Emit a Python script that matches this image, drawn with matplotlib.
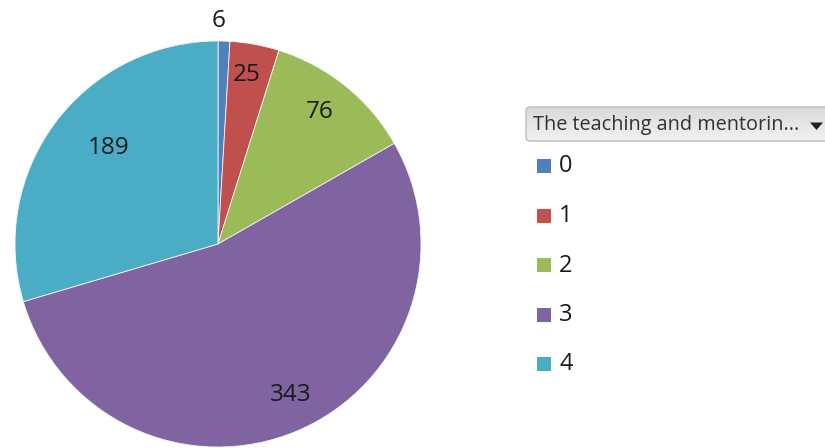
import matplotlib.pyplot as plt
import numpy as np
from matplotlib.patches import FancyBboxPatch, Rectangle, Polygon

# dados do grafico
categorias = ['0', '1', '2', '3', '4']
valores = [6, 25, 76, 343, 189]
titulo_legenda = 'The teaching and mentorin...'

cores = ['#4F81BD', '#C0504D', '#9BBB59', '#8064A2', '#4BACC6']
# distancia do rotulo ao centro (fracao do raio) e ajuste de angulo em graus
dist_rotulo = [1.10, 0.845, 0.82, 0.825, 0.72]
ajuste_ang = [-1.5, -0.7, -1.2, -2.7, 4.5]

plt.rcParams['font.family'] = ['Open Sans', 'DejaVu Sans']

fig = plt.figure(figsize=(8.25, 4.48), dpi=100)
W, H = 825, 448

# pizza: centro (218, 244), raio 203 px
cx, cy, r = 218, 244, 203
ax = fig.add_axes([(cx - r) / W, (H - cy - r) / H, 2 * r / W, 2 * r / H])
fatias, _ = ax.pie(valores, colors=cores, startangle=90, counterclock=False,
                   radius=1.0, wedgeprops=dict(edgecolor='#f4f4f4', linewidth=0.6))
ax.set_xlim(-1, 1)
ax.set_ylim(-1, 1)
ax.set_aspect('equal')
ax.axis('off')

# rotulos com os valores
total = float(sum(valores))
acum = 0.0
for v, d, a in zip(valores, dist_rotulo, ajuste_ang):
    meio = (acum + v / 2.0) / total * 360.0 + a
    acum += v
    ang = np.deg2rad(90 - meio)
    ax.text(d * np.cos(ang), d * np.sin(ang), str(v), ha='center', va='center',
            fontsize=17.5, color='#1a1a1a', clip_on=False)

# camada em pixels para a legenda
lg = fig.add_axes([0, 0, 1, 1])
lg.set_xlim(0, W)
lg.set_ylim(H, 0)
lg.axis('off')

# caixa tipo "dropdown" com gradiente
x0, y0, x1, y1 = 526, 107, 840, 141
caixa = FancyBboxPatch((x0, y0), x1 - x0, y1 - y0, boxstyle='round,pad=0,rounding_size=4',
                       facecolor='none', edgecolor='#bdbdbd', linewidth=1.0, zorder=3)
lg.add_patch(caixa)
grad = np.linspace(0, 1, 64).reshape(-1, 1)
img = lg.imshow(grad, extent=(x0, x1, y0, y1), cmap=plt.matplotlib.colors.LinearSegmentedColormap.from_list(
    'g', ['#f2f2f2', '#d9d9d9']), aspect='auto', zorder=2, origin='upper')
img.set_clip_path(caixa)
lg.set_xlim(0, W)
lg.set_ylim(H, 0)
lg.text(533, 125, titulo_legenda, ha='left', va='center', fontsize=14.3,
        color='#333333', zorder=4)
lg.add_patch(Polygon([[810, 122.5], [823, 122.5], [816.5, 130]], closed=True,
                     facecolor='#222222', edgecolor='none', zorder=4))

# itens da legenda
for i, (cat, cor) in enumerate(zip(categorias, cores)):
    yc = 166.5 + i * 49.5
    lg.add_patch(Rectangle((537, yc - 7), 14, 14, facecolor=cor, edgecolor='none'))
    lg.text(559, yc, cat, ha='left', va='center', fontsize=17, color='#1a1a1a')

fig.savefig('out.png', dpi=100)
